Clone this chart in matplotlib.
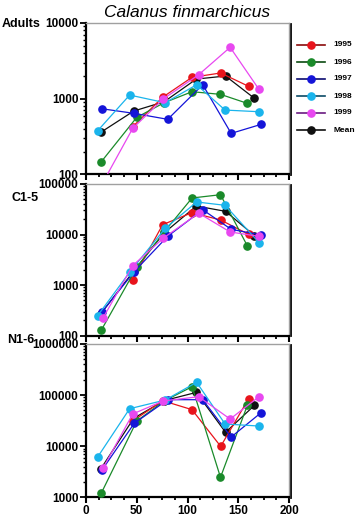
import matplotlib
matplotlib.use("Agg")
import matplotlib.pyplot as plt
from matplotlib.ticker import FixedLocator, NullFormatter, LogLocator
from matplotlib.lines import Line2D

plt.rcParams['font.family'] = ['Liberation Sans', 'DejaVu Sans']

years = ["1995", "1996", "1997", "1998", "1999", "Mean"]
colors = ["#e8141c", "#1a8a2a", "#1414d8", "#1ab4ec", "#e848f0", "#101010"]
legend_line_colors = ["#8a0a0a", "#0a4a10", "#0a0a70", "#0a4a66", "#6a1a80", "#101010"]

days = {
    "1995": [46, 75.5, 104.4, 132.7, 160.2],
    "1996": [15, 50, 77, 104.5, 132.5, 159],
    "1997": [15.5, 47.5, 80.5, 115, 143, 172.5],
    "1998": [11.5, 43, 78, 109, 137, 170.5],
    "1999": [17, 46, 76, 111, 142, 170],
    "Mean": [14.5, 47, 77, 108.7, 137.5, 166],
}

adults = {
    "1995": [427, 1047, 1918, 2188, 1459],
    "1996": [147, 568, 886, 1239, 1143, 869],
    "1997": [738, 641, 535, 1531, 349, 459],
    "1998": [378, 1119, 886, 1531, 709, 674],
    "1999": [80, 406, 991, 2075, 4775, 1355],
    "Mean": [360, 688, 913, 1820, 1995, 1012],
}

c15 = {
    "1995": [1285, 15700, 27100, 19400, 10100],
    "1996": [128, 2256, 11250, 52900, 61400, 5950],
    "1997": [291, 1850, 9250, 31000, 12700, 9820],
    "1998": [250, 1800, 13300, 44100, 37900, 6920],
    "1999": [228, 2430, 8440, 26500, 11250, 9250],
    "Mean": [270, 1900, 10800, 36700, 28800, 9530],
}

n16 = {
    "1995": [31100, 77800, 51900, 9930, 85100],
    "1996": [1200, 31100, 76700, 146000, 2460, 63100],
    "1997": [3370, 28000, 81300, 81300, 15100, 45300],
    "1998": [6150, 54200, 80000, 178000, 27200, 24800],
    "1999": [3800, 42700, 76700, 93100, 34000, 91800],
    "Mean": [3580, 35200, 78000, 113000, 18700, 63100],
}

panels = [
    ("Adults", adults, (100, 10000), [100, 1000, 10000]),
    ("C1-5", c15, (100, 100000), [100, 1000, 10000, 100000]),
    ("N1-6", n16, (1000, 1000000), [1000, 10000, 100000, 1000000]),
]

W, H = 363, 516
fig = plt.figure(figsize=(W / 100, H / 100), dpi=100)

boxes = [(23, 174.5), (184, 335.7), (344, 497.3)]
left_px, right_px = 86, 289
label_pos = [(2, 27), (12, 201), (7, 343)]

for i, ((name, data, ylim, yticks), (top, bot)) in enumerate(zip(panels, boxes)):
    ax = fig.add_axes([left_px / W, 1 - bot / H, (right_px - left_px) / W, (bot - top) / H])
    for yr, col in zip(years, colors):
        ax.plot(days[yr], data[yr], color=col, lw=0.9, marker='o', ms=5.2,
                mec=col, mfc=col, zorder=3 if yr != "Mean" else 2)
    ax.set_yscale('log')
    ax.set_ylim(*ylim)
    ax.set_xlim(0, 200)
    ax.yaxis.set_major_locator(FixedLocator(yticks))
    ax.yaxis.set_minor_locator(LogLocator(base=10, subs=range(2, 10), numticks=20))
    ax.yaxis.set_minor_formatter(NullFormatter())
    ax.set_yticklabels([str(t) for t in yticks], fontsize=8.5, fontweight='bold')
    ax.xaxis.set_major_locator(FixedLocator([0, 50, 100, 150, 200]))
    ax.xaxis.set_minor_locator(FixedLocator([12.5 * k for k in range(17)]))
    if i == 2:
        ax.set_xticklabels(["0", "50", "100", "150", "200"], fontsize=8.5, fontweight='bold')
    else:
        ax.set_xticklabels([])
    ax.tick_params(axis='both', which='major', direction='out', length=4, width=1.3, pad=1.5)
    ax.tick_params(axis='both', which='minor', direction='out', length=2.5, width=1.0)
    ax.tick_params(axis='x', which='major', length=4, width=1.5)
    ax.tick_params(axis='x', which='minor', length=2.5, width=1.3)
    ax.spines['left'].set_linewidth(1.6)
    ax.spines['bottom'].set_linewidth(1.6)
    ax.spines['top'].set_color('#a0a0a0')
    ax.spines['right'].set_color('#a0a0a0')
    ax.spines['top'].set_linewidth(1.0)
    ax.spines['right'].set_linewidth(1.0)
    ax.add_line(Line2D([1.008, 1.008], [-0.005, 0.995], transform=ax.transAxes,
                       color='black', lw=1.3, clip_on=False))
    lx, ly = label_pos[i]
    fig.text(lx / W, 1 - ly / H, name, fontsize=9, fontweight='bold', ha='left', va='baseline')
    if i == 0:
        fig.text(187 / W, 1 - 17 / H, "Calanus finmarchicus", fontsize=12.5,
                 style='italic', ha='center', va='baseline')

# legend drawn manually
leg_y = [45, 62, 79, 96, 113, 130]
for yr, col, lcol, yy in zip(years, colors, legend_line_colors, leg_y):
    yf = 1 - yy / H
    fig.add_artist(Line2D([297 / W, 325 / W], [yf, yf], color=lcol, lw=1.2))
    fig.add_artist(Line2D([311 / W], [yf], color=col, marker='o', ms=5.2, mec=col, mfc=col))
    fig.text(333 / W, yf, yr, fontsize=6, fontweight='bold', ha='left', va='center')

fig.savefig("out.png", dpi=100)
